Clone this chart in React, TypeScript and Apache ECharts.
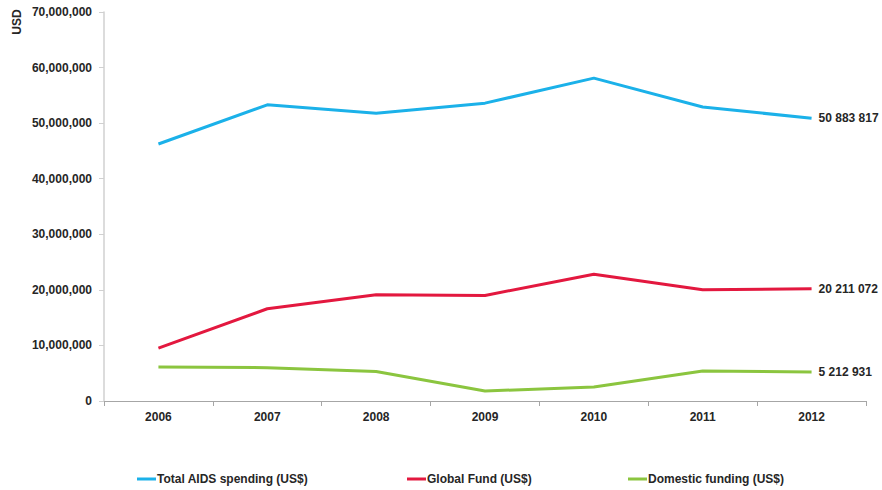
import React, { useEffect, useRef } from "react";
import * as echarts from "echarts";

const years = ["2006", "2007", "2008", "2009", "2010", "2011", "2012"];
const totalAids = [46250000, 53300000, 51800000, 53600000, 58100000, 52900000, 50883817];
const globalFund = [9500000, 16600000, 19100000, 19000000, 22800000, 20000000, 20211072];
const domestic = [6100000, 6000000, 5300000, 1800000, 2500000, 5400000, 5212931];
const seriesNames = ["Total AIDS spending (US$)", "Global Fund (US$)", "Domestic funding (US$)"];
const colors = ["#1bb1e9", "#e3183f", "#8bc53f"];

const FONT = "'Liberation Sans', Arial, sans-serif";
const TXT = "#262626";

const fmtComma = (v: number) => v.toLocaleString("en-US");
const fmtSpace = (v: number) => Math.round(v).toString().replace(/\B(?=(\d{3})+(?!\d))/g, " ");

export default function App() {
  const ref = useRef<HTMLDivElement>(null);
  useEffect(() => {
    if (!ref.current) return;
    const chart = echarts.init(ref.current, undefined, { renderer: "svg" });
    const mk = (name: string, data: number[], color: string) => ({
      name,
      type: "line",
      data,
      symbol: "none",
      lineStyle: { width: 3, color },
      itemStyle: { color },
      endLabel: {
        show: true,
        distance: 7,
        formatter: (p: any) => fmtSpace(p.value),
        fontFamily: FONT,
        fontWeight: "bold",
        fontSize: 12,
        color: TXT,
      },
    });
    const legendLefts = [132, 402, 623];
    const legends = seriesNames.map((n, i) => ({
      left: legendLefts[i],
      top: 468,
      itemWidth: 19,
      itemHeight: 3,
      icon: "rect",
      data: [n],
      textStyle: { fontFamily: FONT, fontWeight: "bold", fontSize: 12, color: TXT, padding: [0, 0, 0, -4] },
    }));
    chart.setOption({
      animation: false,
      backgroundColor: "#ffffff",
      grid: { left: 104, right: 16, top: 12, bottom: 89, containLabel: false },
      legend: legends,
      xAxis: {
        type: "category",
        data: years,
        boundaryGap: true,
        axisLine: { lineStyle: { color: "#a6a6a6", width: 1 } },
        axisTick: { show: true, length: 5, lineStyle: { color: "#a6a6a6" } },
        axisLabel: { margin: 10, fontFamily: FONT, fontWeight: "bold", fontSize: 12, color: TXT },
        splitLine: { show: false },
      },
      yAxis: {
        type: "value",
        min: 0,
        max: 70000000,
        interval: 10000000,
        axisLine: { show: true, lineStyle: { color: "#d0d0d0", width: 1.5 } },
        axisTick: { show: true, length: 5, lineStyle: { color: "#d0d0d0" } },
        axisLabel: {
          margin: 12,
          fontFamily: FONT,
          fontWeight: "bold",
          fontSize: 12,
          color: TXT,
          formatter: (v: number) => fmtComma(v),
        },
        splitLine: { show: false },
      },
      graphic: [
        {
          type: "text",
          x: 17,
          y: 22,
          rotation: Math.PI / 2,
          style: {
            text: "USD",
            fontFamily: FONT,
            fontWeight: "bold",
            fontSize: 12,
            fill: TXT,
            align: "center",
            verticalAlign: "middle",
          },
        },
      ],
      series: [
        mk(seriesNames[0], totalAids, colors[0]),
        mk(seriesNames[1], globalFund, colors[1]),
        mk(seriesNames[2], domestic, colors[2]),
      ],
    });
    return () => chart.dispose();
  }, []);
  return <div ref={ref} style={{ width: 882, height: 490, position: "absolute", left: 0, top: 0 }} />;
}
